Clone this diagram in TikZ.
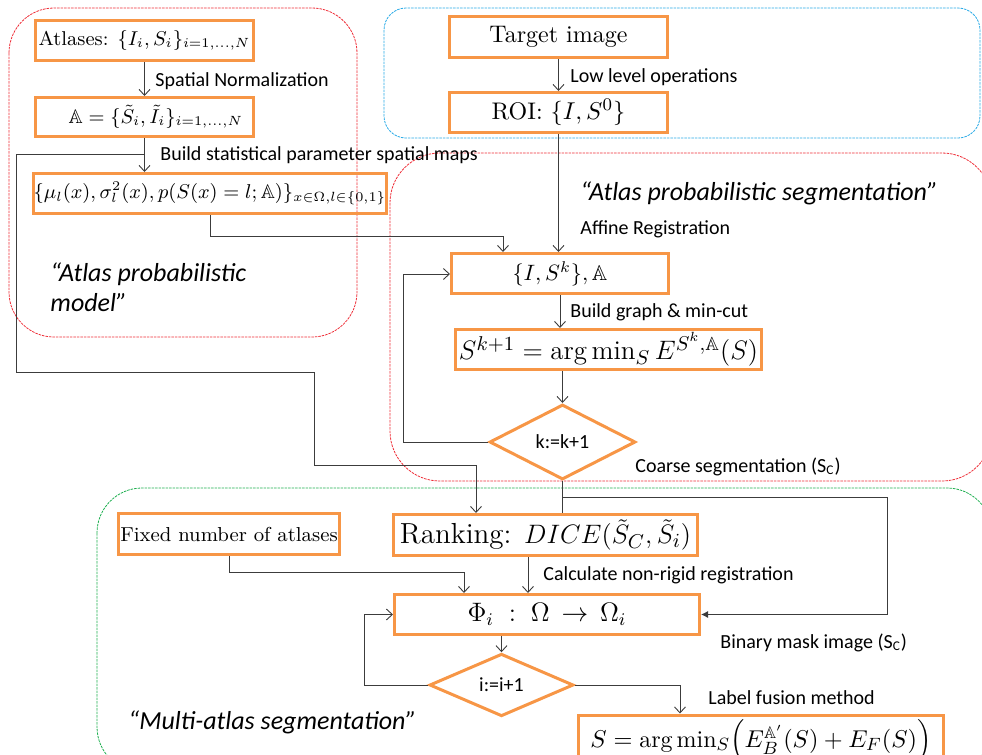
\documentclass[tikz,border=0pt]{standalone}
\usepackage{amsmath,amssymb}
\usepackage{fontspec}
\newfontfamily\calfont{Carlito}
\usetikzlibrary{shapes.geometric,arrows.meta}
\definecolor{boxorange}{RGB}{247,150,70}
\definecolor{grpred}{RGB}{238,45,55}
\definecolor{grpblue}{RGB}{40,170,230}
\definecolor{grpgreen}{RGB}{30,175,80}
\definecolor{wire}{RGB}{60,60,60}
\newcommand{\pxu}{0.45pt}
\newcommand{\fs}[1]{\fontsize{\fpeval{0.45*#1}pt}{\fpeval{0.52*#1}pt}\selectfont}

\begin{document}
\begin{tikzpicture}[x=\pxu,y=-\pxu,
  procbox/.style={draw=boxorange, line width=3*\pxu, rectangle, inner sep=2*\pxu},
  decision/.style={draw=boxorange, line width=3*\pxu, diamond, inner sep=\pxu, font=\calfont\fs{20}},
  group/.style={line width=0.8*\pxu, dash pattern=on 2.5*\pxu off 1*\pxu},
  wirelab/.style={anchor=west, inner sep=0pt, font=\calfont\fs{20}},
  grouplab/.style={anchor=west, inner sep=0pt, align=left, font=\calfont\itshape\fs{26}},
  flow/.style={draw=wire, line width=0.9*\pxu, -{Straight Barb[length=6*\pxu,width=11*\pxu]}},
  link/.style={draw=wire, line width=0.9*\pxu}]
  \clip (0,0) rectangle (982,755);

  % Group frames
  \draw[group, grpred, rounded corners=45*\pxu] (9,8) rectangle (357,337);
  \draw[group, grpblue, rounded corners=22*\pxu] (384,8) rectangle (980,138);
  \draw[group, grpred, rounded corners=50*\pxu] (390,153) rectangle (992,481);
  \draw[group, grpgreen, rounded corners=45*\pxu] (97,488) rectangle (992,772);

  % Atlas probabilistic model
  \node[procbox, minimum width=218*\pxu, minimum height=40*\pxu, font=\fs{20}] (atlases) at (144.5,40.5) {Atlases: $\{I_i,S_i\}_{i=1,\dots,N}$};
  \node[procbox, minimum width=218*\pxu, minimum height=39*\pxu, text width=197*\pxu, align=flush right, font=\fs{19.7}] (normA) at (144.5,117) {$\mathbb{A}=\{\tilde S_i,\tilde I_i\}_{i=1,\dots,N}$};
  \node[procbox, minimum width=349*\pxu, minimum height=40*\pxu, inner sep=0pt, font=\fs{19.7}] (stats) at (210,193.5) {$\{\mu_l(x),\sigma_l^2(x),p(S(x)=l;\mathbb{A})\}_{x\in\Omega,l\in\{0,1\}}$};

  % Target image
  \node[procbox, minimum width=218*\pxu, minimum height=41*\pxu, font=\fs{24}] (target) at (558.5,37) {Target image};
  \node[procbox, minimum width=218*\pxu, minimum height=40*\pxu, font=\fs{24}] (roi) at (558.5,112.5) {ROI: $\{I,S^0\}$};

  % Atlas probabilistic segmentation
  \node[procbox, minimum width=217*\pxu, minimum height=40*\pxu, font=\fs{21.4}] (reg) at (560,273.5) {$\{I,S^k\},\mathbb{A}$};
  \node[procbox, minimum width=306*\pxu, minimum height=40*\pxu, font=\fs{27}] (cut) at (608.5,349.5) {$S^{k+1}=\arg\min_S E^{S^k,\mathbb{A}}(S)$};
  \node[decision, minimum width=146*\pxu, minimum height=75*\pxu] (kloop) at (562.5,442) {k:=k+1};

  % Multi-atlas segmentation
  \node[procbox, minimum width=217*\pxu, minimum height=41*\pxu, font=\fs{20.2}] (fixed) at (229,534) {Fixed number of atlases};
  \node[procbox, minimum width=304*\pxu, minimum height=41*\pxu, font=\fs{29}] (rank) at (545.5,535) {Ranking: $DICE(\tilde S_C,\tilde S_i)$};
  \node[procbox, minimum width=305*\pxu, minimum height=40*\pxu, font=\fs{26}] (phi) at (547,614.5) {$\Phi_i\;:\;\Omega\,\rightarrow\,\Omega_i$};
  \node[decision, minimum width=144*\pxu, minimum height=52*\pxu] (iloop) at (501.5,685) {i:=i+1};
  \node[procbox, minimum width=365*\pxu, minimum height=52*\pxu, font=\fs{24}] (fusion) at (761,741) {$S=\arg\min_S\Bigl(E_B^{\mathbb{A}'}(S)+E_F(S)\Bigr)$};

  % Bend points
  \coordinate (split) at (144.5,154);
  \coordinate (mapin) at (503,236);
  \coordinate (kback) at (403,274);
  \coordinate (bigturn) at (476,465);
  \coordinate (maskturn) at (887,497);
  \coordinate (fixturn) at (464,572);
  \coordinate (nonrigid) at (528,575);
  \coordinate (iback) at (364,614.5);
  \coordinate (fuseturn) at (680,684);

  % Connectors
  \draw[flow] (atlases) -- (normA);
  \draw[flow] (normA.south -| atlases) -- (atlases |- stats.north);
  \draw[flow] (target) -- (roi);
  \draw[flow] (roi) -- (roi |- reg.north);
  \draw[flow] (stats.south) |- (mapin) -- (mapin |- reg.north);
  \draw[flow] (reg) -- (reg |- cut.north);
  \draw[flow] (cut.south -| kloop) -- (kloop);
  \draw[flow] (kloop.west) -| (kback) -- (kback -| reg.west);
  \draw[flow] (split) -| (16,372) -| (314,465) -- (bigturn) -- (bigturn |- rank.north);
  \draw[link] (kloop.south) -- (kloop.south |- rank.north);
  \draw[link, -{Latex[length=7*\pxu,width=7*\pxu]}] (kloop.south |- maskturn) -- (maskturn) |- (phi.east);
  \draw[flow] (fixed.south) |- (fixturn) -- (fixturn |- phi.north);
  \draw[flow] (nonrigid |- rank.south) -- (nonrigid |- phi.north);
  \draw[flow] (phi.south -| iloop) -- (iloop);
  \draw[flow] (iloop.west) -| (iback) -- (phi.west);
  \draw[flow] (iloop.east) -| (fuseturn |- fusion.north);

  % Connector labels
  \node[wirelab] (lspatial) at (155,81) {Spatial Normalization};
  \node[wirelab] (lmaps) at (160,155) {Build statistical parameter spatial maps};
  \node[wirelab] (llow) at (570,77) {Low level operations};
  \node[wirelab] (laffine) at (580,229) {Affine Registration};
  \node[wirelab] (lgraph) at (570,312) {Build graph \& min-cut};
  \node[wirelab] (lcoarse) at (635,467) {Coarse segmentation (S\textsubscript{C})};
  \node[wirelab] (lnonrigid) at (543,575) {Calculate non-rigid registration};
  \node[wirelab] (lmask) at (720,643) {Binary mask image (S\textsubscript{C})};
  \node[wirelab] (lfusion) at (708,698) {Label fusion method};

  % Group labels
  \node[grouplab] (gmodel) at (50,287) {“Atlas probabilistic\\model”};
  \node[grouplab] (gseg) at (580,193) {“Atlas probabilistic segmentation”};
  \node[grouplab] (gmulti) at (128,722) {“Multi-atlas segmentation”};
\end{tikzpicture}
\end{document}
